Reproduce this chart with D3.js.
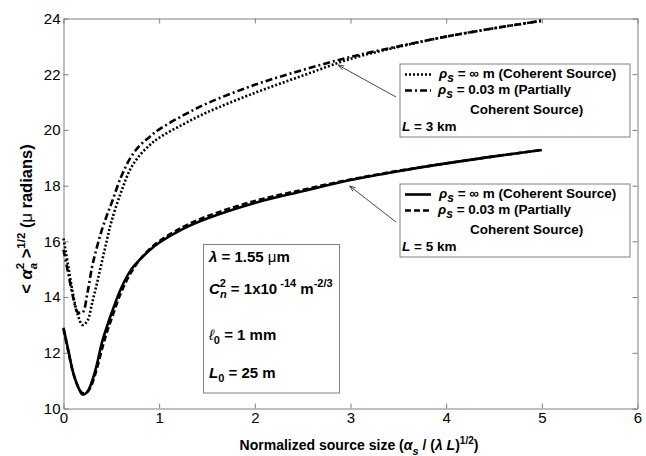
<!DOCTYPE html>
<html>
<head>
<meta charset="utf-8">
<script src="https://cdn.jsdelivr.net/npm/d3@7"></script>
<style>
  body { margin: 0; background: #fff; }
  svg { font-family: "Liberation Sans", Arial, sans-serif; }
  .tick text { font-size: 15px; fill: #000; }
</style>
</head>
<body>
<svg id="chart" width="646" height="456"></svg>
<script>
// normalized source size
var sourceSize = [0, 0.05, 0.1, 0.15, 0.2, 0.25, 0.3, 0.35, 0.4, 0.45, 0.5, 0.6, 0.7, 0.8, 0.9, 1.0, 1.25, 1.5, 2.0, 2.5, 3.0, 3.5, 4.0, 4.5, 5.0];

// rms angle of arrival (micro radians)
var coherent3km = [16.1, 15.1, 14.1, 13.35, 13.0, 13.15, 13.8, 14.5, 15.25, 15.99, 16.7, 17.75, 18.6, 19.1, 19.45, 19.72, 20.2, 20.63, 21.33, 21.95, 22.55, 22.98, 23.35, 23.65, 23.92];
var partial3km = [15.7, 14.85, 14.0, 13.45, 13.45, 14.15, 15.1, 15.8, 16.4, 16.9, 17.35, 18.3, 19.0, 19.45, 19.75, 20.02, 20.52, 20.95, 21.62, 22.15, 22.62, 23.0, 23.35, 23.65, 23.92];
var coherent5km = [12.9, 12.1, 11.3, 10.8, 10.5, 10.6, 11.0, 11.6, 12.35, 12.9, 13.4, 14.3, 14.95, 15.35, 15.68, 15.95, 16.45, 16.82, 17.38, 17.8, 18.2, 18.52, 18.8, 19.05, 19.28];
var partial5km = [12.85, 12.05, 11.3, 10.8, 10.55, 10.6, 10.9, 11.45, 12.1, 12.7, 13.2, 14.15, 14.85, 15.35, 15.72, 16.0, 16.52, 16.9, 17.45, 17.85, 18.22, 18.53, 18.8, 19.05, 19.28];

var xTicks = [0, 1, 2, 3, 4, 5, 6];
var yTicks = [10, 12, 14, 16, 18, 20, 22, 24];

// where the annotation arrows point, in data units
var arrow3km = [2.87, 22.33];
var arrow5km = [2.99, 17.99];

var svg = d3.select("#chart");
var plotLeft = 63.5, plotRight = 637.5, plotTop = 18.5, plotBottom = 408.5;

var x = d3.scaleLinear().domain([0, 6]).range([plotLeft, plotRight]);
var y = d3.scaleLinear().domain([10, 24]).range([plotBottom, plotTop]);

// axes, matlab style with inward ticks and a box
svg.append("g").attr("transform", "translate(0," + plotBottom + ")")
  .call(d3.axisBottom(x).tickValues(xTicks).tickFormat(d3.format("d")).tickSize(-5).tickSizeOuter(0).tickPadding(4));
svg.append("g").attr("transform", "translate(" + plotLeft + ",0)")
  .call(d3.axisLeft(y).tickValues(yTicks).tickFormat(d3.format("d")).tickSize(-5).tickSizeOuter(0).tickPadding(3));
svg.append("g").attr("transform", "translate(0," + plotTop + ")")
  .call(d3.axisTop(x).tickValues(xTicks).tickSize(-5).tickSizeOuter(0).tickFormat(""));
svg.append("g").attr("transform", "translate(" + plotRight + ",0)")
  .call(d3.axisRight(y).tickValues(yTicks).tickSize(-5).tickSizeOuter(0).tickFormat(""));
svg.selectAll(".domain").attr("stroke", "#808080");
svg.selectAll(".tick line").attr("stroke", "#808080");

var series = [
  { values: coherent3km, dash: "2,2" },
  { values: partial3km, dash: "7,3,2,3" },
  { values: coherent5km, dash: null },
  { values: partial5km, dash: "6,3" }
];

var line = d3.line()
  .x(function(d) { return x(d[0]); })
  .y(function(d) { return y(d[1]); })
  .curve(d3.curveCatmullRom.alpha(0.5));

series.forEach(function(s) {
  svg.append("path")
    .datum(d3.zip(sourceSize, s.values))
    .attr("d", line)
    .attr("fill", "none")
    .attr("stroke", "#000")
    .attr("stroke-width", 2.6)
    .attr("stroke-dasharray", s.dash);
});

// arrows
svg.append("defs").append("marker")
  .attr("id", "head").attr("viewBox", "0 0 10 10")
  .attr("refX", 10).attr("refY", 5)
  .attr("markerWidth", 7).attr("markerHeight", 7)
  .attr("orient", "auto")
  .append("path").attr("d", "M0,1.5L10,5L0,8.5").attr("fill", "none").attr("stroke", "#333").attr("stroke-width", 1.3);

[[396, 97, arrow3km], [396, 222, arrow5km]].forEach(function(a) {
  svg.append("line")
    .attr("x1", a[0]).attr("y1", a[1])
    .attr("x2", x(a[2][0])).attr("y2", y(a[2][1]))
    .attr("stroke", "#333").attr("stroke-width", 0.9)
    .attr("marker-end", "url(#head)");
});

// legend boxes
function rho(t, xx, yy, rest) {
  var tx = t.append("text").attr("x", xx).attr("y", yy)
    .attr("font-size", 13.5).attr("font-weight", "bold");
  tx.append("tspan").attr("font-style", "italic").text("\u03c1");
  tx.append("tspan").attr("font-style", "italic").attr("dy", 4).attr("font-size", 12).text("s");
  tx.append("tspan").attr("dy", -4).text(rest);
}

function legend(top0, dash1, dash2, distance) {
  var g = svg.append("g");
  g.append("rect").attr("x", 400).attr("y", top0).attr("width", 230).attr("height", 73)
    .attr("fill", "#fff").attr("stroke", "#808080").attr("stroke-width", 1);
  [[dash1, 13.5], [dash2, 29.5]].forEach(function(r) {
    g.append("line").attr("x1", 405).attr("x2", 431)
      .attr("y1", top0 + r[1] - 3).attr("y2", top0 + r[1] - 3)
      .attr("stroke", "#000").attr("stroke-width", 2.6)
      .attr("stroke-dasharray", r[0]);
  });
  rho(g, 439, top0 + 13.5, " = \u221e  m (Coherent Source)");
  rho(g, 438, top0 + 29.5, " = 0.03 m (Partially");
  g.append("text").attr("x", 470).attr("y", top0 + 49.5)
    .attr("font-size", 13.5).attr("font-weight", "bold").text("Coherent Source)");
  var lt = g.append("text").attr("x", 402).attr("y", top0 + 66.5)
    .attr("font-size", 13.5).attr("font-weight", "bold");
  lt.append("tspan").attr("font-style", "italic").text("L");
  lt.append("tspan").text(" = " + distance);
}
legend(64, "2,2", "7,3,2,3", "3 km");
legend(184, null, "6,3", "5 km");

// parameter box
var pb = svg.append("g");
pb.append("rect").attr("x", 203.5).attr("y", 244.5).attr("width", 136).attr("height", 148.5)
  .attr("fill", "#fff").attr("stroke", "#808080");
var t1 = pb.append("text").attr("x", 209).attr("y", 262).attr("font-size", 15).attr("font-weight", "bold");
t1.append("tspan").attr("font-style", "italic").text("\u03bb");
t1.append("tspan").text(" = 1.55 ");
t1.append("tspan").attr("font-weight", "normal").text("\u03bc");
t1.append("tspan").text("m");

var t2 = pb.append("text").attr("x", 209).attr("y", 294).attr("font-size", 15).attr("font-weight", "bold");
t2.append("tspan").attr("font-style", "italic").text("C");
t2.append("tspan").attr("font-size", 11).attr("dy", -7).text("2");
t2.append("tspan").attr("font-size", 11).attr("font-style", "italic").attr("dx", -6).attr("dy", 11).text("n");
t2.append("tspan").attr("dy", -4).text(" = 1x10");
t2.append("tspan").attr("font-size", 11).attr("dy", -7).text(" -14");
t2.append("tspan").attr("dy", 7).text(" m");
t2.append("tspan").attr("font-size", 11).attr("dy", -7).text("-2/3");

var t3 = pb.append("text").attr("x", 209).attr("y", 340).attr("font-size", 15).attr("font-weight", "bold");
t3.append("tspan").attr("font-style", "italic").attr("font-weight", "normal").text("\u2113");
t3.append("tspan").attr("font-size", 11).attr("dy", 4).text("0");
t3.append("tspan").attr("dy", -4).text(" = 1 mm");

var t4 = pb.append("text").attr("x", 209).attr("y", 378).attr("font-size", 15).attr("font-weight", "bold");
t4.append("tspan").attr("font-style", "italic").text("L");
t4.append("tspan").attr("font-size", 11).attr("dy", 4).text("0");
t4.append("tspan").attr("dy", -4).text(" = 25 m");

// axis titles
var xl = svg.append("text").attr("x", 359).attr("y", 450).attr("text-anchor", "middle")
  .attr("font-size", 14).attr("font-weight", "bold");
xl.append("tspan").text("Normalized source size (");
xl.append("tspan").attr("font-style", "italic").text("\u03b1");
xl.append("tspan").attr("font-style", "italic").attr("font-size", 11).attr("dy", 5).text("s");
xl.append("tspan").attr("dy", -5).text(" / (");
xl.append("tspan").attr("font-style", "italic").text("\u03bb L");
xl.append("tspan").text(")");
xl.append("tspan").attr("font-size", 10).attr("dy", -6).text("1/2");
xl.append("tspan").attr("dy", 6).text(")");

var yl = svg.append("text").attr("transform", "translate(31.5,219) rotate(-90)")
  .attr("text-anchor", "middle").attr("font-size", 16.5).attr("font-weight", "bold");
yl.append("tspan").text("< ");
yl.append("tspan").attr("font-style", "italic").text("\u03b1");
yl.append("tspan").attr("font-size", 11.5).attr("dy", -8).text("2");
yl.append("tspan").attr("font-size", 11.5).attr("font-style", "italic").attr("dx", -6.5).attr("dy", 13).text("a");
yl.append("tspan").attr("dy", -5).text(" >");
yl.append("tspan").attr("font-size", 11.5).attr("dy", -7).text("1/2");
yl.append("tspan").attr("dy", 7).text(" (");
yl.append("tspan").attr("font-weight", "normal").text("\u03bc");
yl.append("tspan").text(" radians)");
</script>
</body>
</html>
